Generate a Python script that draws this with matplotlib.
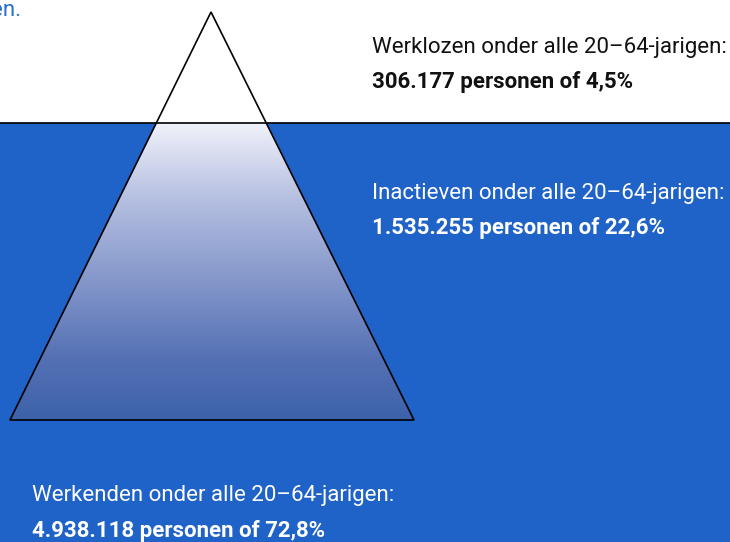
import matplotlib
matplotlib.use("Agg")
import matplotlib.pyplot as plt
import numpy as np
from matplotlib.patches import Polygon
from matplotlib.colors import LinearSegmentedColormap

# ---- data ----
groups = ["Werklozen", "Inactieven", "Werkenden"]
persons = ["306.177", "1.535.255", "4.938.118"]
shares = ["4,5%", "22,6%", "72,8%"]
age_label = "onder alle 20–64-jarigen:"

fam = ["Roboto", "DejaVu Sans"]

W, H = 730, 542
fig = plt.figure(figsize=(W / 100, H / 100), dpi=100)
ax = fig.add_axes([0, 0, 1, 1])
ax.set_xlim(0, W)
ax.set_ylim(H, 0)
ax.axis("off")

water_y = 123
blue = "#1F62C8"
ax.add_patch(plt.Rectangle((0, water_y), W, H - water_y, color=blue, zorder=0))

apex = (211, 12)
bl, br = (10, 420), (414, 420)

ax.add_patch(Polygon([apex, br, bl], closed=True, facecolor="white", edgecolor="none", zorder=1))

cmap = LinearSegmentedColormap.from_list(
    "ice", [(0.0, "#F0F1F9"), (0.26, "#B4BEE0"), (0.8, "#5470B4"), (1.0, "#3D62AA")])
grad = np.linspace(0, 1, 256).reshape(-1, 1)
im = ax.imshow(grad, cmap=cmap, extent=(0, 420, 420, water_y), aspect="auto", zorder=2)
clip = Polygon([apex, br, bl], closed=True, transform=ax.transData)
im.set_clip_path(clip)
ax.add_patch(Polygon([apex, br, bl], closed=True, facecolor="none", edgecolor="black", lw=1.2, zorder=4))
ax.plot([0, W], [water_y, water_y], color="black", lw=1.2, zorder=5)

fs = 16
pos = [(372, 47, "#111111"), (372, 193, "white"), (32, 496, "white")]
for (x, y, c), g, p, s in zip(pos, groups, persons, shares):
    ax.text(x, y, f"{g} {age_label}", fontsize=fs, family=fam, color=c, va="center", ha="left", zorder=6)
    ax.text(x, y + 35, f"{p} personen of {s}", fontsize=fs, family=fam, weight="bold",
            color=c, va="center", ha="left", zorder=6)

ax.text(21, 11, "en.", fontsize=fs, family=fam, color="#2A6FD0", va="center", ha="right", zorder=6)

fig.savefig("out.png", dpi=100)
